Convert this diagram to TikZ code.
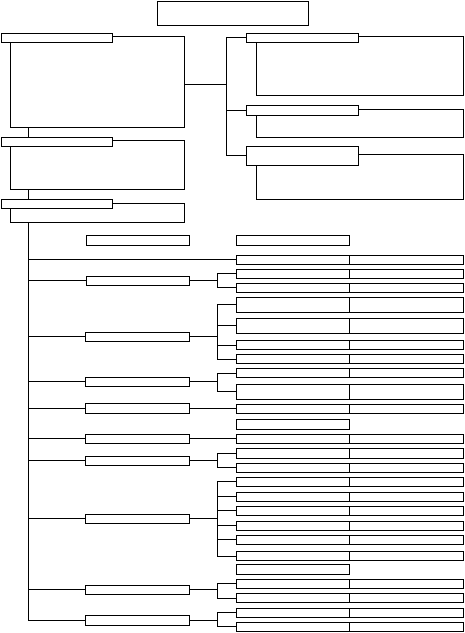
\documentclass[tikz,border=0pt]{standalone}
\begin{document}
\begin{tikzpicture}[x=1pt,y=-1pt,
  bx/.style={draw, fill=white, inner sep=0pt, outer sep=0pt, anchor=north west, line width=1pt},
  ln/.style={line width=1pt}]
\newcommand\mybox[5]{\node[bx,minimum width={#4pt-#2pt},minimum height={#5pt-#3pt}] (#1) at (#2,#3) {};}
\newcommand\myrow[3]{\mybox{ra#1}{236.3}{#2}{349.3}{#3}\mybox{rb#1}{349.3}{#2}{463.7}{#3}}
\newcommand\myone[3]{\mybox{ra#1}{236.3}{#2}{349.3}{#3}}
\useasboundingbox (0,0) rectangle (465,633);
\coordinate (trk) at (28.3,0);
\coordinate (jx) at (217.3,0);
\coordinate (jr) at (226.3,84.3);
% top
\mybox{top}{157.3}{1.3}{308.3}{25.3}
% left bodies
\mybox{Bb1}{10.3}{36.3}{184.3}{127.3}
\mybox{Bb2}{10.3}{140.3}{184.3}{189.3}
\mybox{Bb3}{10.3}{203}{184.3}{222.3}
\mybox{Bl1}{1.3}{33.3}{112.7}{42.3}
\mybox{Bl2}{1.3}{137.3}{112.7}{146.3}
\mybox{Bl3}{1.3}{199.3}{112.7}{208.3}
% right bodies
\mybox{Rb1}{256.3}{36.3}{463.7}{95.3}
\mybox{Rb2}{256.3}{109.3}{463.7}{137.3}
\mybox{Rb3}{256.3}{154.3}{463.7}{199.3}
\mybox{Rl1}{246.3}{33.3}{358.7}{42.3}
\mybox{Rl2}{246.3}{105.3}{358.7}{115.3}
\mybox{Rl3}{246.3}{146.3}{358.7}{165.3}
% connectors top part
\draw[ln] (trk |- Bb1.south) -- (trk |- Bl2.north);
\draw[ln] (trk |- Bb2.south) -- (trk |- Bl3.north);
\draw[ln] (jr -| Bb1.east) -- (jr);
\draw[ln] (jr |- Rl1.west) -- (jr |- Rl3.west);
\foreach \n in {Rl1,Rl2,Rl3} \draw[ln] (jr |- \n.west) -- (\n.west);
% headers
\mybox{Hl}{86.3}{235.3}{189.3}{245.3}
\mybox{Hr}{236.3}{235.3}{349.3}{245.3}
% left middle boxes
\mybox{L1}{86.3}{276.3}{189.3}{285.3}
\mybox{L2}{85.8}{332.3}{189.3}{341.3}
\mybox{L3}{85.8}{377}{189.3}{386}
\mybox{L4}{85.8}{403.8}{189.3}{413.8}
\mybox{L5}{85.8}{434.3}{189.3}{443.3}
\mybox{L6}{85.8}{456.3}{189.3}{465.3}
\mybox{L7}{85.8}{514.3}{189.3}{523.3}
\mybox{L8}{85.8}{585}{189.3}{594}
\mybox{L9}{85.8}{615.3}{189.3}{625.3}
% rows
\myrow{1}{255.3}{264.3}
\myrow{2}{269.3}{278.3}
\myrow{3}{283.3}{292.3}
\myrow{4}{297.3}{312.3}
\myrow{5}{318.3}{333.3}
\myrow{6}{340.7}{349.3}
\myrow{7}{354.7}{363.3}
\myrow{8}{368.7}{377.3}
\myrow{9}{384.3}{399.3}
\myrow{10}{404.3}{413.3}
\myone{11}{419.3}{429.3}
\myrow{12}{434.3}{443.3}
\myrow{13}{448.7}{458.3}
\myrow{14}{463.3}{472.3}
\myrow{15}{477.3}{486.3}
\myrow{16}{492.3}{501.3}
\myrow{17}{506.3}{515.3}
\myrow{18}{521.3}{530.3}
\myrow{19}{535.3}{544.3}
\myrow{20}{551.7}{560.7}
\myone{21}{564.3}{574.3}
\myrow{22}{579.3}{588.3}
\myrow{23}{593.3}{602.7}
\myrow{24}{608.3}{617.3}
\myrow{25}{622.3}{631.3}
% trunk
\draw[ln] (trk |- Bb3.south) -- (trk |- L9.west);
\draw[ln] (trk |- ra1.west) -- (ra1.west);
\foreach \n in {L1,L2,L3,L4,L5,L6,L7,L8,L9} \draw[ln] (trk |- \n.west) -- (\n.west);
\draw[ln] (L4.east) -- (L4.east -| ra10.west);
\draw[ln] (L5.east) -- (L5.east -| ra12.west);
\newcommand\grp[3]{%
  \draw[ln] (#1.east) -- (jx |- #1.east);
  \draw[ln] (jx |- ra#2.west) -- (jx |- ra#3.west);
  \foreach \k in {#2,...,#3} \draw[ln] (jx |- ra\k.west) -- (ra\k.west);}
\grp{L1}{2}{3}
\grp{L2}{4}{7}
\grp{L3}{8}{9}
\grp{L6}{13}{14}
\grp{L7}{15}{20}
\grp{L8}{22}{23}
\grp{L9}{24}{25}
\end{tikzpicture}
\end{document}
